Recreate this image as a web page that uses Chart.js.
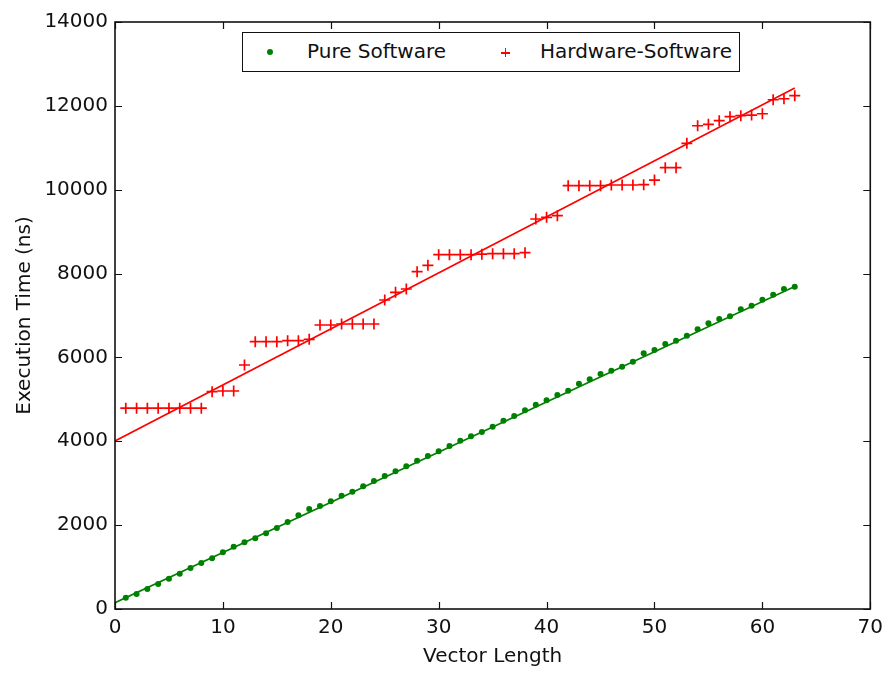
<!DOCTYPE html>
<html lang="en">
<head>
  <meta charset="UTF-8" />
  <title>Execution Time vs Vector Length</title>
  <script src="https://cdn.jsdelivr.net/npm/chart.js"></script>
  <style>
    body {
      margin: 0;
      padding: 0;
      background: #fff;
      font-family: 'DejaVu Sans', sans-serif;
    }
    .wrap {
      position: relative;
      width: 890px;
      height: 673px;
    }
    .legend {
      position: absolute;
      left: 242px;
      top: 32px;
      width: 496px;
      height: 38px;
      border: 1.5px solid #111;
      background: #fff;
      font-size: 20px;
      color: #111;
    }
    .legend span {
      position: absolute;
      top: 6px;
      line-height: 24px;
      white-space: nowrap;
    }
    .dot {
      position: absolute;
      width: 6px;
      height: 6px;
      border-radius: 50%;
      background: #008000;
    }
    .plus {
      position: absolute;
      width: 9px;
      height: 9px;
    }
    .plus::before, .plus::after {
      content: "";
      position: absolute;
      background: #ff0000;
    }
    .plus::before { left: 0; top: 4px; width: 9px; height: 1.5px; }
    .plus::after { left: 3.75px; top: 0; width: 1.5px; height: 9px; }
  </style>
</head>
<body>
  <div class="wrap">
    <canvas id="timeChart"></canvas>
    <div class="legend">
      <div class="dot" style="left:24px; top:16px;"></div>
      <span style="left:64px;">Pure Software</span>
      <div class="plus" style="left:258px; top:15px;"></div>
      <span style="left:297px;">Hardware-Software</span>
    </div>
  </div>

  <script>
    // vector lengths 1..63
    const vectorLength = [
      1, 2, 3, 4, 5, 6, 7, 8, 9, 10, 11, 12, 13, 14, 15, 16, 17, 18, 19, 20, 21,
      22, 23, 24, 25, 26, 27, 28, 29, 30, 31, 32, 33, 34, 35, 36, 37, 38, 39, 40, 41, 42,
      43, 44, 45, 46, 47, 48, 49, 50, 51, 52, 53, 54, 55, 56, 57, 58, 59, 60, 61, 62, 63
    ];

    // measured execution time (ns)
    const pureSoftware = [
      270, 358, 477, 596, 723, 842, 978, 1097, 1208, 1351, 1486, 1590, 1685, 1805, 1932, 2075, 2234, 2385, 2456, 2570, 2703,
      2798, 2925, 3053, 3172, 3284, 3403, 3537, 3649, 3761, 3887, 4014, 4118, 4221, 4348, 4491, 4603, 4739, 4873, 4977, 5104, 5206,
      5370, 5478, 5605, 5684, 5779, 5898, 6098, 6177, 6320, 6399, 6518, 6670, 6813, 6916, 6980, 7147, 7233, 7376, 7496, 7632, 7687
    ];
    const hardwareSoftware = [
      4790, 4790, 4790, 4790, 4790, 4790, 4790, 4790, 5183, 5199, 5199, 5819, 6375, 6375, 6375, 6400, 6400, 6432, 6773, 6773, 6797,
      6797, 6797, 6797, 7370, 7553, 7632, 8045, 8197, 8450, 8450, 8450, 8450, 8462, 8474, 8474, 8474, 8498, 9301, 9342, 9380, 10096,
      10096, 10096, 10096, 10112, 10112, 10112, 10120, 10231, 10525, 10525, 11106, 11526, 11559, 11646, 11741, 11765, 11781, 11812, 12146, 12170, 12242
    ];

    // linear fit lines, endpoints at x = 0 and x = 63
    const fitX = [0, 63];
    const pureFit = [150, 7690];
    const hardwareFit = [4007, 12425];

    const xTicks = [0, 10, 20, 30, 40, 50, 60, 70];
    const yTicks = [0, 2000, 4000, 6000, 8000, 10000, 12000, 14000];

    const toPoints = (xs, ys) => xs.map((x, i) => ({ x: x, y: ys[i] }));

    // frame around the plot with inward tick marks on all four sides
    const frameTicks = {
      id: 'frameTicks',
      afterDraw(chart) {
        const { ctx, chartArea: a, scales } = chart;
        const len = 7;
        ctx.save();
        ctx.strokeStyle = '#111';
        ctx.lineWidth = 1.2;
        ctx.beginPath();
        xTicks.forEach(v => {
          const px = Math.round(scales.x.getPixelForValue(v)) + 0.5;
          ctx.moveTo(px, a.bottom); ctx.lineTo(px, a.bottom - len);
          ctx.moveTo(px, a.top); ctx.lineTo(px, a.top + len);
        });
        yTicks.forEach(v => {
          const py = Math.round(scales.y.getPixelForValue(v)) + 0.5;
          ctx.moveTo(a.left, py); ctx.lineTo(a.left + len, py);
          ctx.moveTo(a.right, py); ctx.lineTo(a.right - len, py);
        });
        ctx.stroke();
        ctx.lineWidth = 1.6;
        ctx.strokeRect(a.left, a.top, a.right - a.left, a.bottom - a.top);
        ctx.restore();
      }
    };

    const font = { family: "'DejaVu Sans', sans-serif", size: 20 };

    new Chart(document.getElementById('timeChart'), {
      type: 'scatter',
      data: {
        datasets: [
          {
            label: 'Pure Software',
            data: toPoints(vectorLength, pureSoftware),
            pointStyle: 'circle',
            pointRadius: 3,
            backgroundColor: '#008000',
            borderColor: '#008000',
            borderWidth: 0
          },
          {
            label: 'Hardware-Software',
            data: toPoints(vectorLength, hardwareSoftware),
            pointStyle: 'cross',
            pointRadius: 5.5,
            borderColor: '#ff0000',
            borderWidth: 1.7
          },
          {
            label: 'pure fit',
            type: 'line',
            data: toPoints(fitX, pureFit),
            borderColor: '#008000',
            borderWidth: 1.6,
            pointRadius: 0,
            fill: false
          },
          {
            label: 'hardware fit',
            type: 'line',
            data: toPoints(fitX, hardwareFit),
            borderColor: '#ff0000',
            borderWidth: 1.6,
            pointRadius: 0,
            fill: false
          }
        ]
      },
      options: {
        responsive: true,
        maintainAspectRatio: false,
        animation: false,
        layout: { padding: { top: 22, right: 16, left: 0, bottom: 0 } },
        plugins: {
          legend: { display: false },
          tooltip: { enabled: false }
        },
        scales: {
          x: {
            type: 'linear',
            min: 0,
            max: 70,
            afterFit(scale) { scale.height = 64; },
            afterBuildTicks(scale) { scale.ticks = xTicks.map(v => ({ value: v })); },
            grid: { display: false, drawTicks: false },
            border: { display: false },
            ticks: { color: '#111', font: font, padding: 7, maxRotation: 0, callback: v => String(v) },
            title: {
              display: true,
              text: 'Vector Length',
              color: '#111',
              font: font,
              padding: { top: 0, bottom: 4 }
            }
          },
          y: {
            type: 'linear',
            min: 0,
            max: 14000,
            afterFit(scale) { scale.width = 115; },
            afterBuildTicks(scale) { scale.ticks = yTicks.map(v => ({ value: v })); },
            grid: { display: false, drawTicks: false },
            border: { display: false },
            ticks: { color: '#111', font: font, padding: 7, callback: v => String(v) },
            title: {
              display: true,
              text: 'Execution Time (ns)',
              color: '#111',
              font: font,
              padding: { top: 13, bottom: 0 }
            }
          }
        }
      },
      plugins: [frameTicks]
    });
  </script>
</body>
</html>
